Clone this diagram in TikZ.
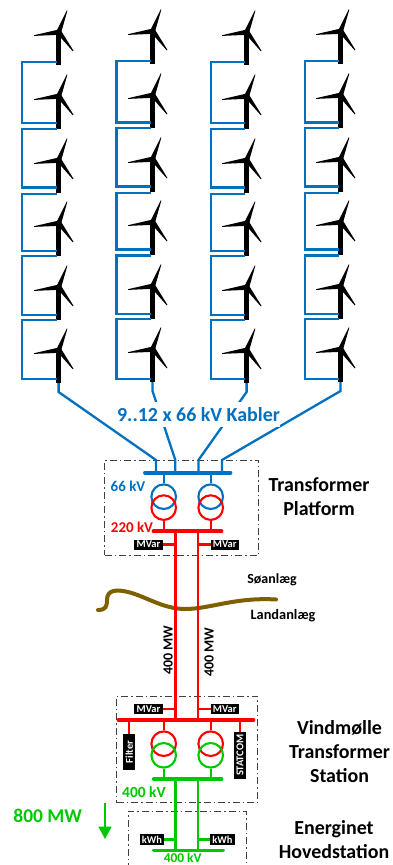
\documentclass[tikz,border=0pt]{standalone}
\usepackage{fontspec}
\setmainfont{Carlito}
\usetikzlibrary{arrows.meta}
\definecolor{cblue}{HTML}{0070C0}
\definecolor{cred}{HTML}{FF0000}
\definecolor{cgreen}{HTML}{00C800}
\definecolor{cbrown}{HTML}{7F6000}
\newcommand{\fs}[1]{\fontsize{#1}{#1}\selectfont\bfseries}
\tikzset{
  x=1bp,y=-1bp,
  cable/.style={cblue,line width=2.3bp,line join=miter},
  wire/.style={line width=2.5bp},
  busbar/.style={line width=3.8bp,line cap=round},
  coil/.style={line width=2.1bp},
  zone/.style={draw=black!75,line width=0.8bp,dash pattern=on 7bp off 3bp on 1.5bp off 3bp},
  tag/.style={fill=black,text=white,inner sep=0pt,font=\fs{10.5}},
  lbl/.style={inner sep=0pt,align=center},
  turbine/.pic={
    \fill[black] (-2.35,1) rectangle (2.35,33);
    \fill[black] (-1,-2.2) -- (-24.5,3.2) -- (-24.5,3.9) -- (1,2.8) -- cycle;
    \fill[black] (-2,-1) -- (8.2,-21.6) -- (8.8,-21.3) -- (2.4,1) -- cycle;
    \fill[black] (-1.5,1.5) -- (14.2,19.3) -- (14.9,18.8) -- (2,-2) -- cycle;
    \coordinate (-foot) at (0,33);
  }
}
\begin{document}
\begin{tikzpicture}
\useasboundingbox (0,0) rectangle (392,865);
\clip (0,0) rectangle (392,865);
% string brackets need the tower positions, so turbines are placed first
\foreach \r/\y in {1/32,2/96,3/160,4/223,5/287,6/350}{
  \pic (t1-\r) at (58.6,\y) {turbine};
  \pic (t3-\r) at (246.6,\y) {turbine};
}
\foreach \r/\y in {1/31,2/95,3/159,4/222,5/286,6/349}{
  \pic (t2-\r) at (152.5,\y) {turbine};
  \pic (t4-\r) at (340.5,\y) {turbine};
}
\foreach \c/\l in {1/22,3/210.7}{
  \foreach \r/\n/\t/\b in {1/2/62/123.3,2/3/128.7/187.5,3/4/194/250.7,4/5/256/315,5/6/320/378.7}{
    \draw[cable] ([xshift=-2bp]t\c-\r-foot |- 0,\t) -- (\l,\t) -- (\l,\b) -- ([xshift=-2bp]t\c-\n-foot |- 0,\b);
  }
}
\foreach \c/\l in {2/116.5,4/305}{
  \foreach \r/\n/\t/\b in {1/2/61/122.5,2/3/128/186.5,3/4/192.7/249.5,4/5/255.5/314,5/6/319.3/378.7}{
    \draw[cable] ([xshift=-2bp]t\c-\r-foot |- 0,\t) -- (\l,\t) -- (\l,\b) -- ([xshift=-2bp]t\c-\n-foot |- 0,\b);
  }
}
% zones
\node[zone,minimum width=154bp,minimum height=95.3bp,inner sep=0pt] (zoneA) at (181.8,507.6) {};
\node[zone,minimum width=141bp,minimum height=106.7bp,inner sep=0pt] (zoneB) at (187.2,749.4) {};
\coordinate (zc1) at (128,870); \coordinate (zc2) at (128,811); \coordinate (zc3) at (246,811); \coordinate (zc4) at (246,870);
\draw[zone] (zc1) -- (zc2) -- (zc3) -- (zc4);
% bus coordinates
\coordinate (b66L) at (145,472.6); \coordinate (b66R) at (230.5,472.6);
\coordinate (f1) at (156,472.6); \coordinate (f2) at (175.3,472.6); \coordinate (f3) at (198.5,472.6); \coordinate (f4) at (222,472.6);
\coordinate (b220L) at (153.5,531.3); \coordinate (b220R) at (221.5,531.3);
\coordinate (b400aL) at (118.5,720); \coordinate (b400aR) at (253.5,720);
\coordinate (bgL) at (153.8,779); \coordinate (bgR) at (221.5,779);
\coordinate (beL) at (153.8,850.4); \coordinate (beR) at (223,850.4);
% feeders
\draw[cable] (t1-6-foot) -- ++(0,9) -- (156,460) -- (f1);
\draw[cable] (t2-6-foot) -- ++(0,9) -- (175.3,460) -- (f2);
\draw[cable] (t3-6-foot) -- ++(0,9) -- (198.5,460) -- (f3);
\draw[cable] (t4-6-foot) -- ++(0,9) -- (222,460) -- (f4);
\node[lbl,fill=white,minimum height=25bp,text=cblue,font=\fs{20}] (kabler) at (198.5,414.5) {9..12 x 66 kV Kabler};
\draw[cblue,busbar] (b66L) -- (b66R);
% upper transformers
\foreach \n/\x in {a/163.7,b/210.7}{
  \node[circle,draw=cblue,coil,minimum size=24.6bp,inner sep=0pt] (hv\n) at (\x,496.7) {};
  \node[circle,draw=cred,coil,minimum size=24.6bp,inner sep=0pt] (lv\n) at (\x,507.6) {};
  \draw[cblue,coil] (hv\n.north) -- (hv\n.north |- b66L);
  \draw[cred,coil] (lv\n.south) -- (lv\n.south |- b220L);
}
\draw[cred,busbar] (b220L) -- (b220R);
% red lines
\coordinate (r1t) at (175.3,531.3); \coordinate (r2t) at (198,531.3);
\coordinate (r1b) at (175.3,720); \coordinate (r2b) at (198,720);
% sea/land border
\draw[cbrown,line width=4bp,line cap=round] (98,610) .. controls (106,610) and (107,606) .. (107,600) .. controls (107,590) and (116,589) .. (128,592) .. controls (145,596) and (163,609) .. (185,609) .. controls (210,609) and (235,597) .. (276,599.5);
\draw[cred,wire] (r1t) -- (r1b);
\draw[cred,wire] (r2t) -- (r2b);
\draw[cred,busbar] (b400aL) -- (b400aR);
% MVar
\node[tag,minimum width=29bp,minimum height=10bp] (m1) at (148.5,544.5) {MVar};
\node[tag,minimum width=28bp,minimum height=10bp] (m2) at (224.7,544.5) {MVar};
\node[tag,minimum width=29bp,minimum height=10bp] (m3) at (148.5,709) {MVar};
\node[tag,minimum width=28bp,minimum height=10bp] (m4) at (224.7,709) {MVar};
\draw[cred,coil] (m1.east) -- (m1.east -| r1t);
\draw[cred,coil] (m2.west) -- (m2.west -| r2t);
\draw[cred,coil] (m3.east) -- (m3.east -| r1t);
\draw[cred,coil] (m4.west) -- (m4.west -| r2t);
% filter, statcom
\node[tag,rotate=90,minimum width=36bp,minimum height=11.7bp] (filter) at (129.3,752) {Filter};
\node[tag,rotate=90,minimum width=47bp,minimum height=11.4bp] (statcom) at (240,755.2) {STATCOM};
\draw[cred,coil] (filter.east) -- (filter.east |- b400aL);
\draw[cred,coil] (statcom.east) -- (statcom.east |- b400aL);
% lower transformers
\foreach \n/\x in {a/163.7,b/210.7}{
  \node[circle,draw=cred,coil,minimum size=24.6bp,inner sep=0pt] (rv\n) at (\x,743.7) {};
  \node[circle,draw=cgreen,coil,minimum size=24.6bp,inner sep=0pt] (gv\n) at (\x,755.3) {};
  \draw[cred,coil] (rv\n.north) -- (rv\n.north |- b400aL);
  \draw[cgreen,coil] (gv\n.south) -- (gv\n.south |- bgL);
}
\draw[cgreen,busbar] (bgL) -- (bgR);
\coordinate (g1t) at (175.3,779); \coordinate (g2t) at (198,779);
\coordinate (g1b) at (175.3,850.4); \coordinate (g2b) at (198,850.4);
\draw[cgreen,wire] (g1t) -- (g1b);
\draw[cgreen,wire] (g2t) -- (g2b);
\draw[cgreen,busbar] (beL) -- (beR);
\node[tag,minimum width=23.4bp,minimum height=10.4bp] (k1) at (152,839.5) {kWh};
\node[tag,minimum width=24.7bp,minimum height=10.4bp] (k2) at (222.4,839.5) {kWh};
\draw[cgreen,coil] (k1.east) -- (k1.east -| g1t);
\draw[cgreen,coil] (k2.west) -- (k2.west -| g2t);
% labels
\node[lbl,text=cblue,font=\fs{15}] (l66) at (128,486) {66 kV};
\node[lbl,text=cred,font=\fs{15}] (l220) at (132,527.3) {220 kV};
\node[lbl,text=cgreen,font=\fs{15.5}] (l400a) at (144,792) {400 kV};
\node[lbl,text=cgreen,font=\fs{13.5}] (l400b) at (182.7,858) {400 kV};
\node[lbl,text=cgreen,font=\fs{19.5}] (l800) at (47.7,816) {800 MW};
\coordinate (ar1) at (105,803); \coordinate (ar2) at (105,839);
\draw[cgreen,line width=1.8bp,-{Triangle[width=13bp,length=12.5bp]}] (ar1) -- (ar2);
\node[lbl,font=\fs{20}] (tp1) at (319,485) {Transformer};
\node[lbl,font=\fs{20}] (tp2) at (319,509) {Platform};
\node[lbl,font=\fs{20}] (v1) at (339.5,728) {Vindmølle};
\node[lbl,font=\fs{20}] (v2) at (339.5,752) {Transformer};
\node[lbl,font=\fs{20}] (v3) at (339.5,776) {Station};
\node[lbl,font=\fs{20}] (e1) at (334,829) {Energinet};
\node[lbl,font=\fs{20}] (e2) at (334,851.5) {Hovedstation};
\node[lbl,font=\fs{14}] (sea) at (272,580) {Søanlæg};
\node[lbl,font=\fs{14.4}] (land) at (283,616) {Landanlæg};
\node[lbl,rotate=90,font=\fs{14}] (mw1) at (168,650) {400 MW};
\node[lbl,rotate=90,font=\fs{14}] (mw2) at (209,652) {400 MW};
\end{tikzpicture}
\end{document}
